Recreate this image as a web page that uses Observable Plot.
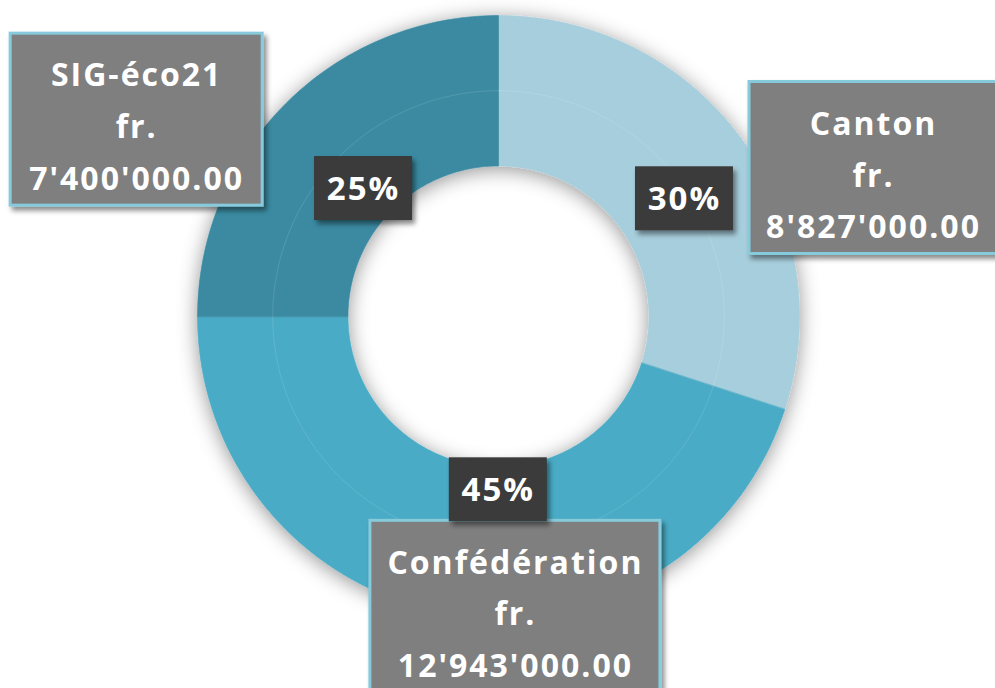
<!DOCTYPE html>
<html><head><meta charset="utf-8">
<script src="https://cdn.jsdelivr.net/npm/d3@7"></script>
<script src="https://cdn.jsdelivr.net/npm/@observablehq/plot@0.6"></script>
<style>
html,body{margin:0;padding:0;background:#fff;}
#chart svg{display:block;}
#chart text{letter-spacing:2px;}
</style></head><body><div id="chart"></div>
<script>
// ---- data ----
const categories = ["Canton", "Confédération", "SIG-éco21"];
const percents = [30, 45, 25];
const amounts = [8827000, 12943000, 7400000];
const currency = "fr.";

// ---- styles / layout (not data) ----
const colors = ["#a7cedc", "#4aabc5", "#3a8aa1"];
const W = 995, H = 688;
const cxPx = 498, cyPx = 316, k = 301; // centre and outer radius in px
const rInner = 0.5, rMid = 0.75, rOuter = 1;
const pctAnchorR = 0.62;
const pctOffset = [[35, -8], [29, -11], [-3, 4]];      // px, y down
const nameOffset = [[131.5, 28.4], [64, -7], [-149, 16]];
const nameBoxW = [248, 290, 252], nameBoxH = 172;
const pctBoxW = 98, pctBoxH = 64;

const fmt = d3.formatLocale({decimal: ".", thousands: "'", grouping: [3], currency: ["", ""]}).format(",.2f");

const total = d3.sum(percents);
let acc = 0;
const slices = categories.map((c, i) => {
  const a0 = acc / total * 360; acc += percents[i];
  const a1 = acc / total * 360;
  return {category: c, i, a0, a1, mid: (a0 + a1) / 2, pct: percents[i], amount: amounts[i]};
});
const pol = (r, deg) => [r * Math.sin(deg * Math.PI / 180), r * Math.cos(deg * Math.PI / 180)];

const ringPts = [];
for (const s of slices) {
  const n = Math.max(2, Math.ceil(s.a1 - s.a0));
  for (let j = 0; j <= n; j++) { const [x, y] = pol(rOuter, s.a0 + (s.a1 - s.a0) * j / n); ringPts.push({category: s.category, x, y}); }
  for (let j = n; j >= 0; j--) { const [x, y] = pol(rInner, s.a0 + (s.a1 - s.a0) * j / n); ringPts.push({category: s.category, x, y}); }
}
const midPts = d3.range(0, 361, 1).map(a => { const [x, y] = pol(rMid, a); return {x, y}; });

const pctLabels = slices.map(s => {
  const [ax, ay] = pol(pctAnchorR, s.mid);
  return {...s, x: ax + pctOffset[s.i][0] / k, y: ay - pctOffset[s.i][1] / k, text: s.pct + "%"};
});
const nameLabels = slices.map(s => {
  const [ax, ay] = pol(rOuter, s.mid);
  return {...s, x: ax + nameOffset[s.i][0] / k, y: ay - nameOffset[s.i][1] / k,
    w: nameBoxW[s.i] / k, text: `${s.category}\n${currency}\n${fmt(s.amount)}`};
});

const plot = Plot.plot({
  width: W, height: H,
  margin: 0,
  x: {domain: [-cxPx / k, (W - cxPx) / k], axis: null},
  y: {domain: [-(H - cyPx) / k, cyPx / k], axis: null},
  color: {domain: categories, range: colors},
  style: {background: "#fff", fontFamily: "'Open Sans', sans-serif"},
  marks: [
    Plot.line(ringPts, {x: "x", y: "y", z: "category", fill: "category", stroke: "category", strokeWidth: 0.6, curve: "linear-closed"}),
    Plot.line(midPts, {x: "x", y: "y", stroke: "#ffffff", strokeOpacity: 0.12, strokeWidth: 1}),
    Plot.rect(nameLabels, {
      x1: d => d.x - d.w / 2, x2: d => d.x + d.w / 2,
      y1: d => d.y - nameBoxH / 2 / k, y2: d => d.y + nameBoxH / 2 / k,
      fill: "#7f7f7f", stroke: "#86cadb", strokeWidth: 3
    }),
    Plot.text(nameLabels, {x: "x", y: "y", text: "text", fill: "#fff", fontSize: 32, fontWeight: "bold", lineHeight: 1.62, dy: 2}),
    Plot.rect(pctLabels, {
      x1: d => d.x - pctBoxW / 2 / k, x2: d => d.x + pctBoxW / 2 / k,
      y1: d => d.y - pctBoxH / 2 / k, y2: d => d.y + pctBoxH / 2 / k,
      fill: "#3a3a3a"
    }),
    Plot.text(pctLabels, {x: "x", y: "y", text: "text", fill: "#fff", fontSize: 33, fontWeight: "bold", dy: 1})
  ]
});

// shadows (visual effects)
const ns = "http://www.w3.org/2000/svg";
const defs = document.createElementNS(ns, "defs");
defs.innerHTML = `
<filter id="ringShadow" x="-20%" y="-20%" width="140%" height="140%">
  <feDropShadow dx="0" dy="3" stdDeviation="10" flood-color="#000" flood-opacity="0.42"/>
</filter>
<filter id="boxShadow" x="-20%" y="-20%" width="140%" height="140%">
  <feDropShadow dx="3" dy="4" stdDeviation="2.5" flood-color="#000" flood-opacity="0.45"/>
</filter>`;
plot.insertBefore(defs, plot.firstChild);
const groups = plot.querySelectorAll(":scope > g");
groups[0].setAttribute("filter", "url(#ringShadow)");
groups[2].setAttribute("filter", "url(#boxShadow)");
groups[4].setAttribute("filter", "url(#boxShadow)");
document.getElementById("chart").appendChild(plot);
</script>
</body></html>
